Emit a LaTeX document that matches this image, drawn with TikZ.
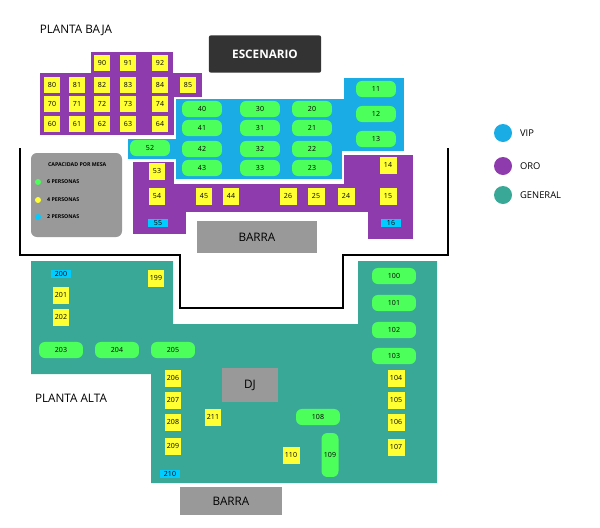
\documentclass[tikz,border=0pt]{standalone}
\usepackage{fontspec}
\setmainfont{Open Sans}
\usetikzlibrary{positioning}
\definecolor{oro}{HTML}{8E3BAE}
\definecolor{vip}{HTML}{1AACE4}
\definecolor{general}{HTML}{3AA896}
\definecolor{seis}{HTML}{4CFF5A}
\definecolor{cuatro}{HTML}{FFFF33}
\definecolor{dos}{HTML}{00CCFF}
\definecolor{gris}{HTML}{999999}
\tikzset{
  mesacuatro/.style={fill=cuatro, minimum width=14.5pt, minimum height=14.5pt, inner sep=0pt, font=\fontsize{6}{7}\selectfont},
  mesaseis/.style={fill=seis, rounded corners=5pt, minimum width=34pt, minimum height=13.7pt, inner sep=0pt, font=\fontsize{6}{7}\selectfont},
  mesados/.style={fill=dos, minimum width=17pt, minimum height=7pt, inner sep=0pt, font=\fontsize{6}{7}\selectfont},
  bloque/.style={fill=gris, inner sep=0pt, font=\fontsize{10}{11}\selectfont},
  pared/.style={line width=1.5pt, black}
}
\begin{document}
\begin{tikzpicture}[x=0.03cm, y=-0.03cm]
\useasboundingbox (0,0) rectangle (600,527);

% planta baja
\node (baja) at (76,30) {\fontsize{10}{11}\selectfont PLANTA BAJA};
\draw[pared] (20,148) -- (20,255) -- (180,255) -- (180,308) -- (343,308) -- (343,255) -- (448,255) -- (448,148);
\node[fill=black!80, rounded corners=2pt, minimum width=96pt, minimum height=32pt, text=white, font=\bfseries\fontsize{10}{11}\selectfont] (escenario) at (265,54) {ESCENARIO};

\fill[oro] (91,52) rectangle (173,73);
\fill[oro] (40,73) rectangle (202,135);
\fill[oro, draw=white, line width=1pt] (132,161) -- (175,161) -- (175,183) -- (343,183) -- (343,154) -- (414,154) -- (414,240) -- (367,240) -- (367,213) -- (187,213) -- (187,235) -- (132,235) -- cycle;
\fill[vip, draw=white, line width=1pt] (127,138) -- (175,138) -- (175,98) -- (343,98) -- (343,77) -- (405,77) -- (405,152) -- (343,152) -- (343,180) -- (175,180) -- (175,160) -- (127,160) -- cycle;

\foreach \l/\x/\y in {90/102/63, 91/128/63, 92/160/63,
  80/52/85, 81/77/85, 82/102/85, 83/128/85, 84/160/85, 85/188/85,
  70/52/104, 71/77/104, 72/102/104, 73/128/104, 74/160/104,
  60/52/124, 61/77/124, 62/102/124, 63/128/124, 64/160/124,
  53/157/171, 54/157/196, 45/204/196, 44/231/196, 26/288/196,
  25/316/196, 24/346/196, 14/388/165, 15/388/196}
  \node[mesacuatro] (m\l) at (\x,\y) {\l};
\foreach \l/\x/\y in {40/202/109, 30/260/109, 20/312/109,
  41/202/128, 31/260/128, 21/312/128,
  42/202/149, 32/260/149, 22/312/149,
  43/202/168, 33/260/168, 23/312/168,
  11/376/89, 12/376/114, 13/376/139, 52/150/148}
  \node[mesaseis] (m\l) at (\x,\y) {\l};
\node[mesados] (m55) at (158,223) {55};
\node[mesados] (m16) at (391,223) {16};
\node[bloque, minimum width=103pt, minimum height=28pt] (barrabaja) at (257,237) {BARRA};

% capacidad
\fill[gris, rounded corners=5pt] (31,153) rectangle (122,237);
\node[font=\bfseries\fontsize{4.5}{5}\selectfont, anchor=west] (capacidad) at (44,165) {CAPACIDAD POR MESA};
\foreach \c/\t/\y in {seis/6 PERSONAS/182, cuatro/4 PERSONAS/200, dos/2 PERSONAS/217} {
  \fill[\c] (38,\y) circle (3);
  \node[font=\bfseries\fontsize{4.5}{5}\selectfont, anchor=west] at (43,\y) {\t};
}

% zonas
\foreach \c/\t/\y in {vip/VIP/133, oro/ORO/166, general/GENERAL/195} {
  \fill[\c] (503,\y) circle (9);
  \node[font=\fontsize{8}{9}\selectfont, anchor=west] at (516,\y) {\t};
}

% planta alta
\node (alta) at (71,398) {\fontsize{10}{11}\selectfont PLANTA ALTA};
\fill[general] (31,261) -- (173,261) -- (173,324) -- (358,324) -- (358,261) -- (437,261) -- (437,483) -- (151,483) -- (151,374) -- (31,374) -- cycle;
\foreach \l/\x/\y in {199/156/278, 201/61/295, 202/61/317, 206/173/378,
  207/173/400, 208/173/422, 209/173/446, 211/213/417, 110/291/455,
  104/396/378, 105/396/400, 106/396/422, 107/396/447}
  \node[mesacuatro] (m\l) at (\x,\y) {\l};
\foreach \l/\x/\y in {203/61/350, 204/117/350, 205/173/350, 108/318/417,
  100/394/276, 101/394/303, 102/394/330, 103/394/356}
  \node[mesaseis, minimum width=37.5pt] (m\l) at (\x,\y) {\l};
\node[mesaseis, minimum width=14.5pt, minimum height=37.5pt] (m109) at (330,455) {109};
\node[mesados] (m200) at (61,274) {200};
\node[mesados] (m210) at (170,474) {210};
\node[bloque, minimum width=48pt, minimum height=29pt] (dj) at (250,385) {DJ};
\node[bloque, minimum width=87pt, minimum height=24pt] (barraalta) at (231,501) {BARRA};
\end{tikzpicture}
\end{document}
